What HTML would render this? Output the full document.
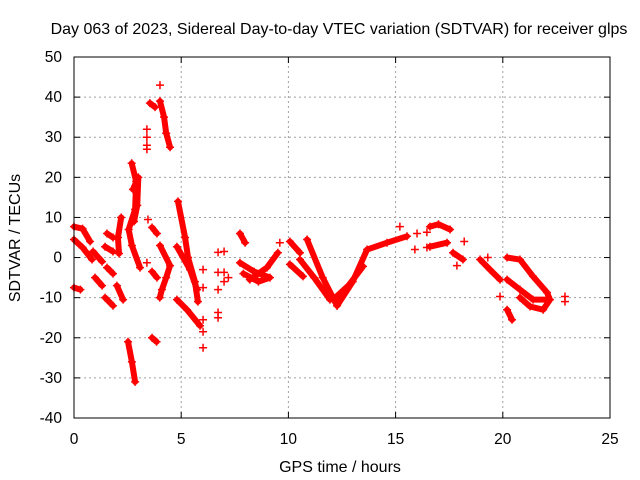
<!DOCTYPE html>
<html><head><meta charset="utf-8"><style>
html,body{margin:0;padding:0;background:#fff}
svg{display:block;font-family:"Liberation Sans",sans-serif}
</style></head><body>
<svg id="c" width="640" height="480">
<text x="339" y="34" text-anchor="middle" font-size="16">Day 063 of 2023, Sidereal Day-to-day VTEC variation (SDTVAR) for receiver glps</text>
<text x="340" y="472" text-anchor="middle" font-size="16">GPS time / hours</text>
<text transform="translate(20,238) rotate(-90)" text-anchor="middle" font-size="16">SDTVAR / TECUs</text>
<g id="grid"></g>
<g id="ticks"></g>
<g id="marks"></g>
<rect x="74" y="57" width="536" height="361" fill="none" stroke="#000" stroke-width="1"/>
</svg>
<script>
const xTicks=[0,5,10,15,20,25];
const yTicks=[-40,-30,-20,-10,0,10,20,30,40,50];
// tracks: [hour, value] pairs
const trackA=[[0,7.7],[0.4,7.2],[0.75,4]];
const trackB=[[0,4.5],[0.4,2.5],[0.84,-0.5]];
const trackC=[[0.89,1.5],[1.31,-1]];
const trackD=[[0,-7.5],[0.3,-8]];
const trackE=[[0.98,-5],[1.31,-7]];
const trackF=[[1.45,-10],[1.82,-12]];
const trackG=[[1.54,6],[1.82,5]];
const trackH=[[1.45,2.7],[1.82,1.5]];
const trackI=[[1.54,-2.5],[1.82,-4]];
const trackJ=[[2.0,-7],[2.29,-10.5]];
const trackK=[[2.2,10],[2.05,5],[2.1,1]];
const trackL=[[2.69,23.5],[2.9,19],[2.85,12],[2.55,7],[2.7,3],[3.08,-2.5]];
const trackL2=[[2.75,17],[3.0,20],[2.95,13],[2.8,9]];
const trackM=[[2.52,-21],[2.7,-26],[2.85,-31]];
const trackO=[[3.54,38.5],[3.78,37.5]];
const trackQ=[[4.01,39],[4.2,35],[4.3,31],[4.48,27.5]];
const trackS=[[3.64,7.5],[3.87,6]];
const trackT=[[4.01,3],[4.48,-2],[4.3,-5],[4.1,-8],[4.0,-10]];
const trackU=[[3.64,-3.5],[3.87,-5]];
const trackV=[[3.64,-20],[3.85,-21]];
const trackW=[[4.85,14],[5.18,5],[5.32,0],[5.64,-6],[5.78,-11]];
const trackW2=[[4.8,2.7],[5.41,-3],[5.74,-8]];
const trackX=[[4.8,-10.5],[5.27,-13],[5.88,-17]];
const trackAB=[[7.74,6],[7.98,3.7]];
const trackAC=[[7.74,-1.3],[8.4,-3.5],[9.14,-5],[8.6,-6],[7.9,-4]];
const trackAD=[[8.2,-5.5],[9.0,-2.5],[9.51,1.2]];
const trackAE=[[10.07,4],[10.54,1.2]];
const trackAF=[[10.07,-1.7],[10.68,-4.7]];
const trackAG=[[10.87,4.5],[11.6,-5],[12.27,-12]];
const trackAH=[[10.54,-0.5],[11.2,-5],[11.94,-10.5]];
const trackAI=[[12.27,-12],[13.0,-6],[13.67,2],[14.6,3.7],[15.53,5.3]];
const trackAJ=[[12.08,-10.5],[12.8,-7],[13.48,-2.2]];
const trackAK=[[16.6,7.7],[17.0,8.3],[17.54,7]];
const trackAL=[[16.6,2.7],[17.4,3.7]];
const trackAM=[[17.68,1.2],[18.14,-0.5]];
const trackAN=[[18.94,-0.5],[19.4,-3],[19.87,-5.5]];
const trackAO=[[20.2,-13],[20.43,-15.5]];
const trackAP=[[20.2,0],[20.8,-0.5],[21.41,-4.7],[22.06,-8.7],[22.2,-10.5],[21.88,-13],[21.27,-12.2],[20.8,-10]];
const trackAQ=[[20.2,-5.5],[20.8,-8],[21.41,-10.5],[22.06,-10.5]];
const tracks=[trackA,trackB,trackC,trackD,trackE,trackF,trackG,trackH,trackI,trackJ,trackK,trackL,trackL2,trackM,trackO,trackQ,trackS,trackT,trackU,trackV,trackW,trackW2,trackX,trackAB,trackAC,trackAD,trackAE,trackAF,trackAG,trackAH,trackAI,trackAJ,trackAK,trackAL,trackAM,trackAN,trackAO,trackAP,trackAQ];
// isolated points
const singles=[[3.4,32],[3.4,30],[3.4,28],[3.4,27],[4.01,43],[3.45,9.5],[3.4,-1.3],[6.02,-3],[6.02,-7.5],[6.02,-15.5],[6.02,-22.5],[6.02,-18.5],[6.72,1.3],[7.0,1.5],[6.72,-3.7],[7.0,-3.7],[6.72,-8],[7.0,-6],[6.72,-13.7],[6.72,-15],[7.2,-5],[9.6,3.7],[15.2,7.7],[16.0,6],[16.46,6.3],[15.9,2],[16.46,2.5],[17.86,-2],[19.87,-9.7],[22.9,-9.7],[22.9,-11],[18.2,4],[19.3,0]];
const X0=74,X1=610,Y0=418,Y1=57,xmin=0,xmax=25,ymin=-40,ymax=50;
const sx=v=>X0+(v-xmin)/(xmax-xmin)*(X1-X0);
const sy=v=>Y0-(v-ymin)/(ymax-ymin)*(Y0-Y1);
const NS="http://www.w3.org/2000/svg";
const grid=document.getElementById('grid'),ticks=document.getElementById('ticks'),marks=document.getElementById('marks');
function mk(t,a,p){const e=document.createElementNS(NS,t);for(const k in a)e.setAttribute(k,a[k]);p.appendChild(e);return e;}
xTicks.forEach(v=>{const x=sx(v);
 if(v>xmin&&v<xmax){const g=mk('line',{x1:x,y1:Y0,x2:x,y2:Y1,stroke:'#a0a0a0','stroke-dasharray':'2,3'},grid);
 
 }
 const t=mk('text',{x:x,y:444,'text-anchor':'middle','font-size':'15.5'},ticks);t.textContent=v;
 
 
 mk('line',{x1:x,y1:Y0,x2:x,y2:Y0-6,stroke:'#000'},ticks);mk('line',{x1:x,y1:Y1,x2:x,y2:Y1+6,stroke:'#000'},ticks);});
yTicks.forEach(v=>{const y=sy(v);
 if(v>ymin&&v<ymax){const g=mk('line',{x1:X0,y1:y,x2:X1,y2:y,stroke:'#a0a0a0','stroke-dasharray':'2,3'},grid);
 
 }
 const t=mk('text',{x:62,y:y+5,'text-anchor':'end','font-size':'15.5'},ticks);t.textContent=v;
 
 
 mk('line',{x1:X0,y1:y,x2:X0+6,y2:y,stroke:'#000'},ticks);mk('line',{x1:X1,y1:y,x2:X1-6,y2:y,stroke:'#000'},ticks);});
function plus(h,v){const x=sx(h),y=sy(v);
 const p=mk('path',{d:`M${x-4},${y}H${x+4}M${x},${y-4}V${y+4}`,stroke:'#f00','stroke-width':'1.5',fill:'none'},marks);
 
 }
tracks.forEach(tr=>{
 const pl=mk('polyline',{points:tr.map(p=>sx(p[0])+','+sy(p[1])).join(' '),stroke:'#f00','stroke-width':'6',fill:'none','stroke-linejoin':'round','stroke-linecap':'round'},marks);
 
 
 tr.forEach(p=>plus(p[0],p[1]));});
singles.forEach(p=>plus(p[0],p[1]));
</script>
</body></html>
